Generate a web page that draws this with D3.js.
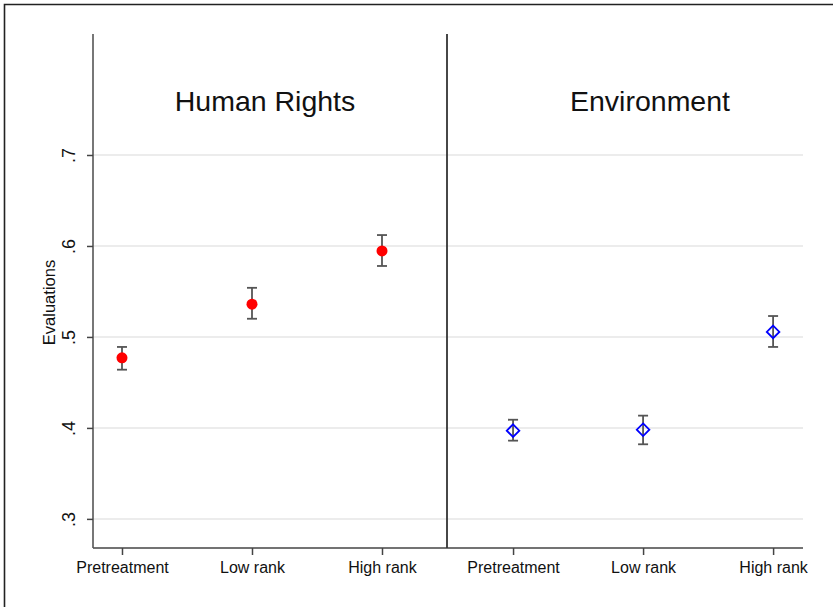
<!DOCTYPE html>
<html>
<head>
<meta charset="utf-8">
<script src="https://cdn.jsdelivr.net/npm/d3@7"></script>
<style>
  html, body { margin: 0; padding: 0; background: #fff; }
  svg { display: block; font-family: "Liberation Sans", Arial, sans-serif; }
</style>
</head>
<body>
<svg id="chart" width="833" height="607"></svg>
<script>
// ---- data ----
const categories = ["Pretreatment", "Low rank", "High rank"];
const panels = ["Human Rights", "Environment"];
const hrMean  = [0.477, 0.536, 0.5945];
const hrLow   = [0.464, 0.520, 0.578];
const hrHigh  = [0.489, 0.554, 0.612];
const envMean = [0.397, 0.398, 0.5055];
const envLow  = [0.386, 0.382, 0.489];
const envHigh = [0.409, 0.4135, 0.523];
const yTicks = [0.3, 0.4, 0.5, 0.6, 0.7];
const yTickLabels = [".3", ".4", ".5", ".6", ".7"];
const yLabel = "Evaluations";

(function () {
// ---- layout ----
const svg = d3.select("#chart");
const plotTop = 34, plotBottom = 548;
const y = d3.scaleLinear().domain([0.268, 0.833]).range([plotBottom, plotTop]);

const panelDefs = [
  { title: panels[0], x0: 93, x1: 447, dom: [-0.223, 2.5], titleX: 265,
    mean: hrMean, lo: hrLow, hi: hrHigh, marker: "circle" },
  { title: panels[1], x0: 447, x1: 803, dom: [-0.508, 2.23], titleX: 650,
    mean: envMean, lo: envLow, hi: envHigh, marker: "diamond" }
];

// outer frame
svg.append("path")
  .attr("d", "M4.5,607 L4.5,4.5 L833,4.5")
  .attr("fill", "none").attr("stroke", "#222").attr("stroke-width", 1.6);

panelDefs.forEach((p, pi) => {
  const x = d3.scaleLinear().domain(p.dom).range([p.x0, p.x1]);
  const g = svg.append("g");

  // gridlines
  g.selectAll("line.grid").data(yTicks).enter().append("line")
    .attr("x1", p.x0).attr("x2", p.x1)
    .attr("y1", d => y(d)).attr("y2", d => y(d))
    .attr("stroke", "#e6e6e6").attr("stroke-width", 1.5);

  // x axis
  const xAxis = d3.axisBottom(x)
    .tickValues(categories.map((c, i) => i))
    .tickFormat(i => categories[i])
    .tickSize(7).tickSizeOuter(0).tickPadding(7);
  const xg = g.append("g").attr("transform", `translate(0,${plotBottom})`).call(xAxis);
  xg.select(".domain").attr("stroke", "#444").attr("stroke-width", 1.6)
    .attr("d", `M${p.x0},0H${p.x1}`);
  xg.selectAll(".tick line").attr("stroke", "#444").attr("stroke-width", 1.5);
  xg.selectAll(".tick text").attr("font-size", 16).attr("fill", "#111")
    .attr("font-family", "Liberation Sans, Arial, sans-serif");

  // y axis (left panel: labelled; right panel: just the divider line)
  if (pi === 0) {
    const yAxis = d3.axisLeft(y).tickValues(yTicks)
      .tickFormat((d, i) => yTickLabels[i]).tickSize(6).tickSizeOuter(0);
    const yg = g.append("g").attr("transform", `translate(${p.x0},0)`).call(yAxis);
    yg.select(".domain").attr("stroke", "#555").attr("stroke-width", 1.6)
      .attr("d", `M0,${plotTop}V${plotBottom}`);
    yg.selectAll(".tick line").attr("stroke", "#444").attr("stroke-width", 1.5);
    yg.selectAll(".tick text")
      .attr("font-size", 18).attr("fill", "#111")
      .attr("font-family", "Liberation Sans, Arial, sans-serif")
      .attr("text-anchor", "middle")
      .attr("dy", null).attr("x", null)
      .attr("transform", "translate(-18,0) rotate(-90)");
    svg.append("text")
      .attr("transform", `translate(55,${(262 + 343) / 2}) rotate(-90)`)
      .attr("text-anchor", "middle").attr("font-size", 16.5).attr("fill", "#111")
      .text(yLabel);
  } else {
    g.append("line").attr("x1", p.x0).attr("x2", p.x0)
      .attr("y1", plotTop).attr("y2", plotBottom)
      .attr("stroke", "#333").attr("stroke-width", 1.8);
  }

  // title
  g.append("text").attr("x", p.titleX).attr("y", 111)
    .attr("text-anchor", "middle").attr("font-size", 28.5).attr("fill", "#111")
    .text(p.title);

  // error bars
  const eb = g.selectAll("g.eb").data(categories).enter().append("g");
  eb.append("line")
    .attr("x1", (d, i) => x(i)).attr("x2", (d, i) => x(i))
    .attr("y1", (d, i) => y(p.lo[i])).attr("y2", (d, i) => y(p.hi[i]))
    .attr("stroke", "#555").attr("stroke-width", 1.8);
  [p.lo, p.hi].forEach(arr => {
    eb.append("line")
      .attr("x1", (d, i) => x(i) - 5).attr("x2", (d, i) => x(i) + 5)
      .attr("y1", (d, i) => y(arr[i])).attr("y2", (d, i) => y(arr[i]))
      .attr("stroke", "#555").attr("stroke-width", 1.8);
  });

  // markers
  if (p.marker === "circle") {
    g.selectAll("circle.pt").data(p.mean).enter().append("circle")
      .attr("cx", (d, i) => x(i)).attr("cy", d => y(d)).attr("r", 5.5)
      .attr("fill", "#ff0000");
  } else {
    const r = 6.3;
    g.selectAll("path.pt").data(p.mean).enter().append("path")
      .attr("d", (d, i) => {
        const cx = x(i), cy = y(d);
        return `M${cx},${cy - r}L${cx + r},${cy}L${cx},${cy + r}L${cx - r},${cy}Z`;
      })
      .attr("fill", "none").attr("stroke", "#0000ff").attr("stroke-width", 1.8);
  }
});
})();
</script>
</body>
</html>
